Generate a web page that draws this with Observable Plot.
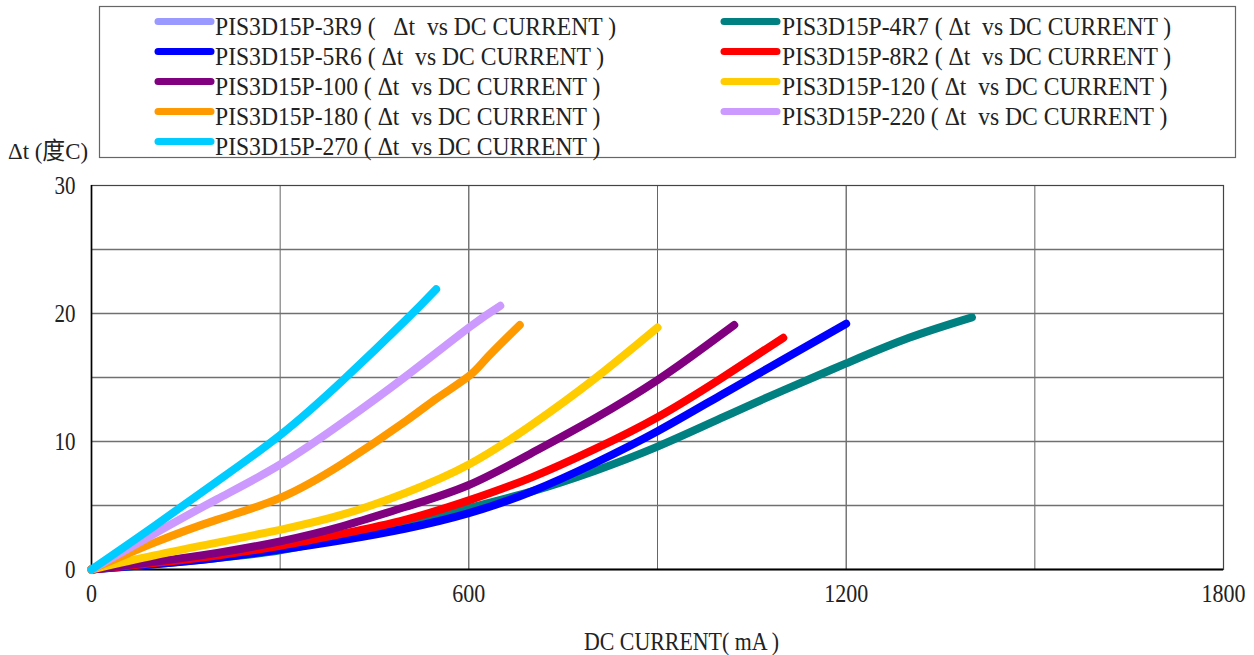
<!DOCTYPE html>
<html><head><meta charset="utf-8">
<script src="https://cdn.jsdelivr.net/npm/d3@7"></script>
<script src="https://cdn.jsdelivr.net/npm/@observablehq/plot@0.6"></script>
<style>
body{margin:0;background:#fff;}
#wrap{position:relative;width:1254px;height:655px;overflow:hidden;background:#fff;font-family:"Liberation Serif","Times New Roman","DejaVu Serif","Noto Sans CJK TC",serif;}
#legend{position:absolute;left:0;top:0;z-index:2;}
#chart{position:absolute;left:0;top:160px;z-index:1;}
text{white-space:pre;}
</style></head><body>
<div id="wrap"><div id="chart"></div><svg id="legend" width="1254" height="172"></svg></div>
<script>
// ---- data ----
const seriesNames = ["PIS3D15P-3R9","PIS3D15P-4R7","PIS3D15P-5R6","PIS3D15P-8R2","PIS3D15P-100","PIS3D15P-120","PIS3D15P-180","PIS3D15P-220","PIS3D15P-270"];
const seriesColors = ["#9999FF","#008080","#0000FF","#FF0000","#800080","#FFCC00","#FF9900","#CC99FF","#00CCFF"];
const legendLabels = [
  "PIS3D15P-3R9 (   Δt  vs DC CURRENT )",
  "PIS3D15P-4R7 ( Δt  vs DC CURRENT )",
  "PIS3D15P-5R6 ( Δt  vs DC CURRENT )",
  "PIS3D15P-8R2 ( Δt  vs DC CURRENT )",
  "PIS3D15P-100 ( Δt  vs DC CURRENT )",
  "PIS3D15P-120 ( Δt  vs DC CURRENT )",
  "PIS3D15P-180 ( Δt  vs DC CURRENT )",
  "PIS3D15P-220 ( Δt  vs DC CURRENT )",
  "PIS3D15P-270 ( Δt  vs DC CURRENT )"
];
// current (mA) and temperature rise (deg C) per series
const cur3R9 = [];
const dt3R9  = [];
const cur4R7 = [0,100,200,300,400,500,600,700,800,900,1000,1100,1200,1300,1400];
const dt4R7  = [0,0.4,0.9,1.5,2.5,3.6,4.8,6.1,7.7,9.6,11.8,14.0,16.1,18.1,19.7];
const cur5R6 = [0,100,200,300,400,500,600,700,800,900,1000,1100,1200];
const dt5R6  = [0,0.4,0.9,1.55,2.3,3.2,4.4,6.1,8.3,10.8,13.6,16.4,19.2];
const cur8R2 = [0,100,200,300,400,500,600,700,800,900,1000,1100];
const dt8R2  = [0,0.5,1.1,1.85,2.8,3.9,5.4,7.2,9.4,11.9,14.9,18.1];
const cur100 = [0,100,200,300,400,500,600,700,800,900,975,1022];
const dt100  = [0,0.6,1.3,2.2,3.4,4.9,6.6,9.1,11.8,14.8,17.4,19.1];
const cur120 = [0,100,200,300,400,500,600,700,800,900];
const dt120  = [0,1.1,2.1,3.1,4.3,6.0,8.2,11.3,14.9,18.9];
const cur180 = [0,100,200,300,400,500,550,600,630,681];
const dt180  = [0,2.1,3.9,5.6,8.3,11.6,13.4,15.1,16.6,19.1];
const cur220 = [0,100,200,300,400,500,600,650];
const dt220  = [0,2.8,5.5,8.2,11.5,15.1,18.9,20.6];
const cur270 = [0,100,200,300,400,500,548];
const dt270  = [0,3.4,6.9,10.5,14.8,19.5,21.9];
const xTicks = [0,600,1200,1800];
const yTicks = [0,10,20,30];
const xGrid = [300,600,900,1200,1500];
const yGrid = [5,10,15,20,25];
const xLabel = "DC CURRENT( mA )";
const yLabel = "Δt (度C)";

const seriesData = [
  [cur3R9,dt3R9],[cur4R7,dt4R7],[cur5R6,dt5R6],[cur8R2,dt8R2],[cur100,dt100],
  [cur120,dt120],[cur180,dt180],[cur220,dt220],[cur270,dt270]
];
const rows = [];
seriesData.forEach(([xs,ys],i)=>xs.forEach((x,j)=>rows.push({series:seriesNames[i],current:x,dt:ys[j]})));

const FONT = '"Liberation Serif","Times New Roman","DejaVu Serif","Noto Sans CJK TC",serif';

// ---- chart ----
const chart = Plot.plot({
  width:1254, height:495,
  marginTop:25, marginBottom:86, marginLeft:91, marginRight:31,
  style:{fontFamily:FONT, fontSize:"25px", color:"#222", background:"transparent", overflow:"visible"},
  x:{domain:[0,1800]},
  y:{domain:[0,30]},
  color:{domain:seriesNames, range:seriesColors},
  marks:[
    Plot.ruleX(xGrid,{stroke:d=>d%600===0?"#333":"#666", strokeWidth:1}),
    Plot.ruleY(yGrid,{stroke:"#707070", strokeWidth:1.6}),
    Plot.frame({stroke:"#444", strokeWidth:1.2}),
    Plot.ruleX([0],{stroke:"#000", strokeWidth:1.6}),
    Plot.ruleY([0],{stroke:"#000", strokeWidth:2}),
    Plot.axisX({ticks:xTicks, tickFormat:d=>String(d), tickSize:0, tickPadding:15, label:null}),
    Plot.axisY({ticks:yTicks, tickFormat:d=>String(d), tickSize:0, tickPadding:16, label:null}),
    Plot.line(rows,{x:"current", y:"dt", z:"series", stroke:"series", strokeWidth:8, curve:"natural", strokeLinecap:"round", strokeLinejoin:"round"}),
    Plot.text([xLabel],{frameAnchor:"bottom", dx:24, dy:72, fontSize:25, fill:"#222", lineAnchor:"middle"})
  ]
});
document.getElementById("chart").appendChild(chart);

function squeeze(el, factor, target){
  const len = el.getComputedTextLength();
  const w = target != null ? target : len*factor;
  el.setAttribute("textLength", w);
  el.setAttribute("lengthAdjust","spacingAndGlyphs");
}
d3.select(chart).selectAll('g[aria-label="x-axis tick label"] text').each(function(){ squeeze(this,null,11*this.textContent.length); });
d3.select(chart).selectAll('g[aria-label="y-axis tick label"] text').each(function(){ squeeze(this,null,10.5*this.textContent.length); });
d3.select(chart).selectAll('g[aria-label="text"] text').each(function(){ squeeze(this,null,195); });

// ---- legend ----
const lg = d3.select("#legend").style("font-family",FONT);
lg.append("rect").attr("x",99.5).attr("y",6.5).attr("width",1136).attr("height",151)
  .attr("fill","#fff").attr("stroke","#666").attr("stroke-width",1.2);
let factor = null;
legendLabels.forEach((lab,i)=>{
  const col = i%2, row = Math.floor(i/2);
  const sx = col===0 ? 158 : 724;
  const tx = col===0 ? 215 : 782;
  const cy = 21.5 + 30*row;
  lg.append("line").attr("x1",sx).attr("x2",sx+53).attr("y1",cy).attr("y2",cy)
    .attr("stroke",seriesColors[i]).attr("stroke-width",7).attr("stroke-linecap","round");
  const t = lg.append("text").attr("x",tx).attr("y",cy+13.5)
    .attr("font-size",26).attr("fill","#222").text(lab);
  const len = t.node().getComputedTextLength();
  if(factor===null) factor = 401/len;
  t.attr("textLength",len*factor).attr("lengthAdjust","spacingAndGlyphs");
});
const yl = lg.append("text").attr("x",8).attr("y",159).attr("font-size",24).attr("fill","#222").text(yLabel);
yl.attr("textLength",80).attr("lengthAdjust","spacingAndGlyphs");
</script>
</body></html>
